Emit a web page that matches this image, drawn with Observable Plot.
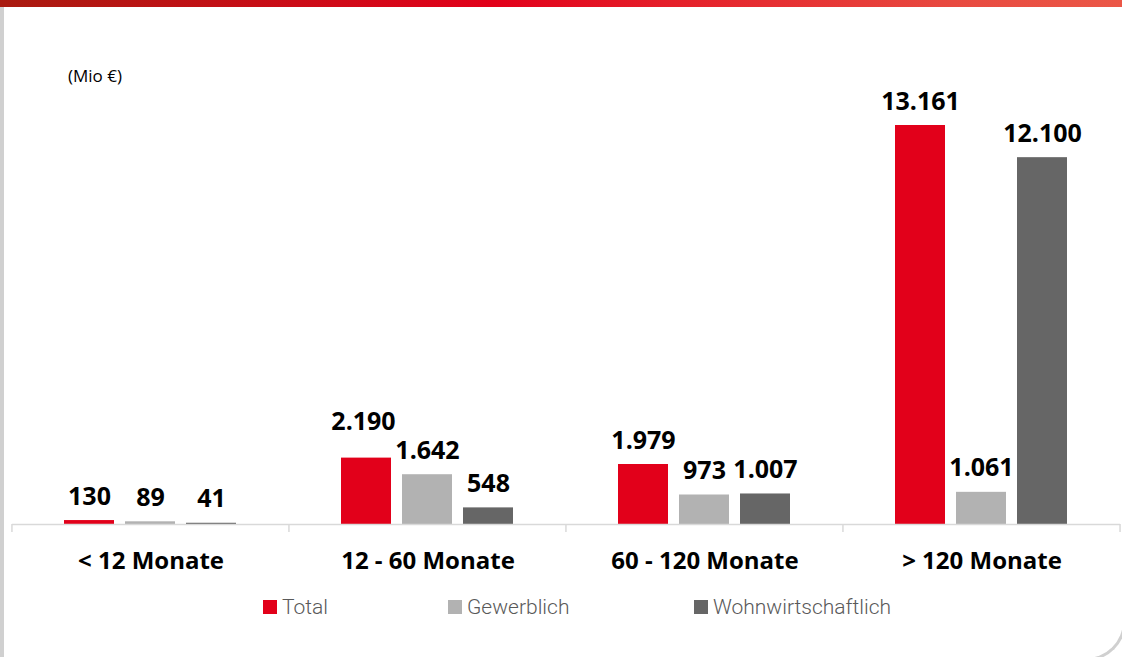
<!DOCTYPE html>
<html>
<head>
<meta charset="utf-8">
<script src="https://cdn.jsdelivr.net/npm/d3@7"></script>
<script src="https://cdn.jsdelivr.net/npm/@observablehq/plot@0.6"></script>
<style>
  html, body { margin: 0; padding: 0; background: #fff; overflow: hidden; }
  #page { position: relative; width: 1122px; height: 657px; overflow: hidden; font-family: "Open Sans", sans-serif; }
  #leftborder { position: absolute; left: 0; top: 0; width: 4px; height: 657px; background: #d0d0d0; }
  #corner { position: absolute; left: 1070px; top: 605px; width: 56px; height: 56px; box-sizing: border-box; border-right: 3px solid #d0d0d0; border-bottom: 3px solid #d0d0d0; border-bottom-right-radius: 40px; }
  #topbar { position: absolute; left: 0; top: 0; width: 1122px; height: 7px; background: linear-gradient(to right, #a91b10 0%, #d00a18 30%, #e2001a 44%, #e5202a 60%, #e84a40 85%, #eb5747 100%); }
  #unit { position: absolute; left: 68px; top: 64px; font-size: 17px; color: #000; }
  #chart { position: absolute; left: 0; top: 0; }
  .leg { position: absolute; top: 595px; display: flex; align-items: center; font-family: Roboto, sans-serif; font-weight: 300; font-size: 21px; color: #595959; }
  .leg span.sw { display: inline-block; width: 14px; height: 14px; margin-right: 5px; }
</style>
</head>
<body>
<div id="page">
  <div id="leftborder"></div>
  <div id="corner"></div>
  <div id="topbar"></div>
  <div id="unit"></div>
  <div id="chart"></div>
  <div id="legend"></div>
</div>
<script>
// ---- data ----
const categories = ["< 12 Monate", "12 - 60 Monate", "60 - 120 Monate", "> 120 Monate"];
const series = ["Total", "Gewerblich", "Wohnwirtschaftlich"];
const totalValues = [130, 2190, 1979, 13161];
const gewerblichValues = [89, 1642, 973, 1061];
const wohnValues = [41, 548, 1007, 12100];
const seriesColors = ["#e2001a", "#b2b2b2", "#666666"];
const unitLabel = "(Mio €)";
// label lifted higher to avoid its neighbour (as in the original)
const raisedLabel = {cat: "12 - 60 Monate", series: "Total"};

const valuesBySeries = [totalValues, gewerblichValues, wohnValues];
const rows = [];
categories.forEach((c, ci) => {
  series.forEach((s, si) => rows.push({cat: c, series: s, value: valuesBySeries[si][ci]}));
});
const isRaised = d => d.cat === raisedLabel.cat && d.series === raisedLabel.series;

const de = d3.formatLocale({decimal: ",", thousands: ".", grouping: [3], currency: ["", " €"]});
const fmt = de.format(",d");

// ---- layout ----
const W = 1122, H = 580;
const mt = 125, mb = 56, ml = 11, mr = 2;
const padIn = 0.18, padOut = 0.86;
const facetW = (W - ml - mr) / categories.length;
const step = facetW / (series.length - padIn + 2 * padOut);
const edgeOffset = padOut * step + step * (1 - padIn) / 2;
const yMax = d3.max(rows, d => d.value);
const tickLen = 8 * yMax / (H - mt - mb);

const labelStyle = {fontSize: 25, fontWeight: "bold", fill: "#000"};

const chart = Plot.plot({
  width: W,
  height: H,
  marginTop: mt,
  marginBottom: mb,
  marginLeft: ml,
  marginRight: mr,
  style: {fontFamily: "'Open Sans', sans-serif", background: "transparent", overflow: "visible"},
  fx: {domain: categories, padding: 0},
  x: {domain: series, paddingInner: padIn, paddingOuter: padOut, axis: null},
  y: {domain: [0, yMax], axis: null},
  color: {domain: series, range: seriesColors},
  marks: [
    Plot.barY(rows, {fx: "cat", x: "series", y: "value", fill: "series"}),
    Plot.ruleY([0], {stroke: "#d9d9d9", strokeWidth: 1.5}),
    Plot.ruleX(categories, {fx: d => d, x: () => series[0], y1: 0, y2: -tickLen, dx: -edgeOffset, stroke: "#d9d9d9", strokeWidth: 1.5}),
    Plot.ruleX([categories[categories.length - 1]], {fx: d => d, x: () => series[series.length - 1], y1: 0, y2: -tickLen, dx: edgeOffset, stroke: "#d9d9d9", strokeWidth: 1.5}),
    Plot.text(rows.filter(d => !isRaised(d)), {fx: "cat", x: "series", y: "value", text: d => fmt(d.value), dy: -24, ...labelStyle}),
    Plot.text(rows.filter(isRaised), {fx: "cat", x: "series", y: "value", text: d => fmt(d.value), dy: -36, dx: -3, ...labelStyle}),
    Plot.axisFx({anchor: "bottom", tickSize: 0, tickPadding: 27, fontSize: 24, fontWeight: "bold", fill: "#000", label: null})
  ]
});
document.getElementById("chart").appendChild(chart);
document.getElementById("unit").textContent = unitLabel;

// ---- legend ----
const legendLeft = [263, 448, 694];
const legend = document.getElementById("legend");
series.forEach((s, i) => {
  const item = document.createElement("div");
  item.className = "leg";
  item.style.left = legendLeft[i] + "px";
  const sw = document.createElement("span");
  sw.className = "sw";
  sw.style.background = seriesColors[i];
  item.appendChild(sw);
  item.appendChild(document.createTextNode(s));
  legend.appendChild(item);
});
</script>
</body>
</html>
